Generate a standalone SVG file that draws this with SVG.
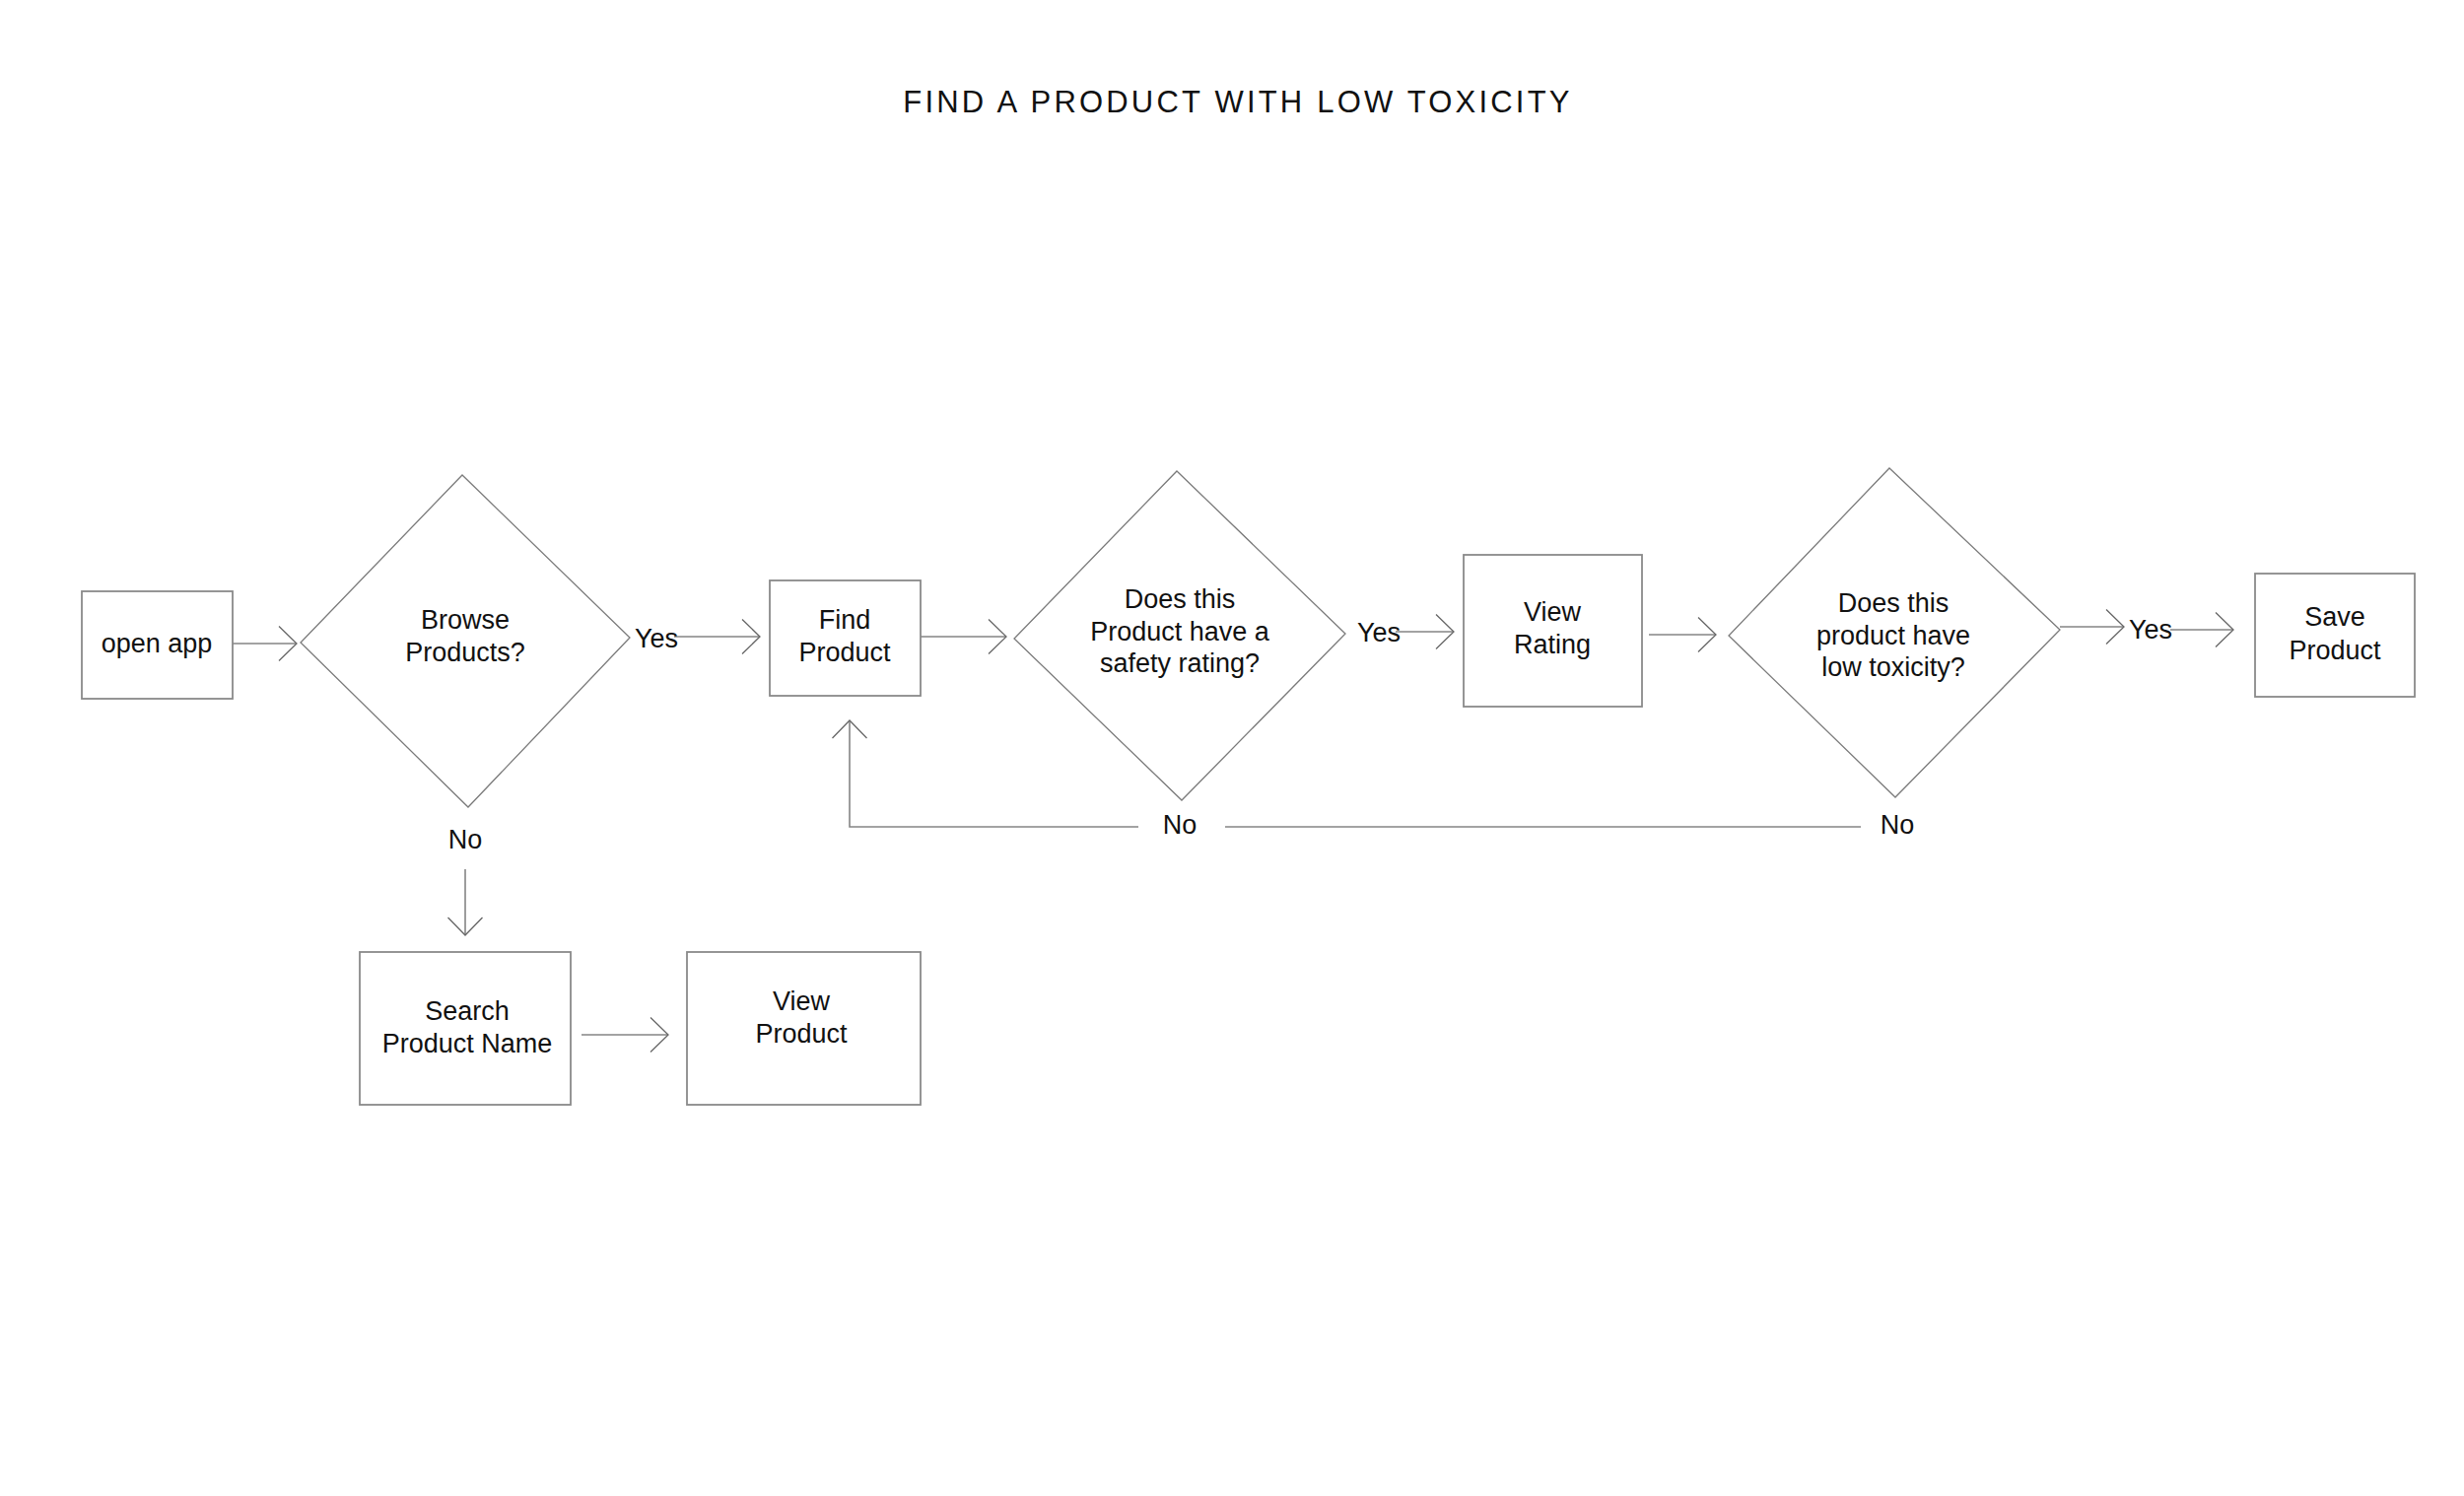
<svg xmlns="http://www.w3.org/2000/svg" width="2500" height="1518" viewBox="0 0 2500 1518">
<style>
.bg{fill:#ffffff}
.box{fill:#ffffff;stroke:#8a8a8a;stroke-width:1.8}
.dia{fill:#ffffff;stroke:#7a7a7a;stroke-width:1.3}
.ln{fill:none;stroke:#858585;stroke-width:1.6}
.ah{fill:none;stroke:#666666;stroke-width:1.3}
.t{font-family:"Liberation Sans",Arial,sans-serif;font-size:27px;fill:#111111;text-anchor:middle}
.lbl{font-family:"Liberation Sans",Arial,sans-serif;font-size:27px;fill:#111111}
.title{font-family:"Liberation Sans",Arial,sans-serif;font-size:31px;fill:#111111;letter-spacing:3.2px;text-anchor:middle}
</style>
<rect class="bg" x="0" y="0" width="2500" height="1518"/>
<text class="title" x="1256" y="114">FIND A PRODUCT WITH LOW TOXICITY</text>

<g id="connectors">
  <line class="ln" x1="235" y1="653" x2="301" y2="653"/>
  <polyline class="ah" points="283,635.5 301,653 283,670.5"/>
  <line class="ln" x1="684" y1="646" x2="771" y2="646"/>
  <polyline class="ah" points="753,628.5 771,646 753,663.5"/>
  <line class="ln" x1="934" y1="646" x2="1021" y2="646"/>
  <polyline class="ah" points="1003,628.5 1021,646 1003,663.5"/>
  <line class="ln" x1="1416" y1="641" x2="1475" y2="641"/>
  <polyline class="ah" points="1457,623.5 1475,641 1457,658.5"/>
  <line class="ln" x1="1673" y1="644" x2="1741" y2="644"/>
  <polyline class="ah" points="1723,626.5 1741,644 1723,661.5"/>
  <line class="ln" x1="2090" y1="636" x2="2155" y2="636"/>
  <polyline class="ah" points="2137,618.5 2155,636 2137,653.5"/>
  <line class="ln" x1="2202" y1="639" x2="2266" y2="639"/>
  <polyline class="ah" points="2248,621.5 2266,639 2248,656.5"/>
  <line class="ln" x1="472" y1="882" x2="472" y2="949"/>
  <polyline class="ah" points="454.5,931 472,949 489.5,931"/>
  <line class="ln" x1="590" y1="1050" x2="678" y2="1050"/>
  <polyline class="ah" points="660,1032.5 678,1050 660,1067.5"/>
  <polyline class="ln" points="1155,839 862,839 862,731"/>
  <polyline class="ah" points="844.5,749 862,731 879.5,749"/>
  <line class="ln" x1="1243" y1="839" x2="1888" y2="839"/>
  <text class="lbl" x="644" y="657">Yes</text>
  <text class="lbl" x="1377" y="651">Yes</text>
  <text class="lbl" x="2160" y="648">Yes</text>
  <text class="t" x="472" y="861">No</text>
  <text class="t" x="1197" y="846">No</text>
  <text class="t" x="1925" y="846">No</text>
</g>

<g id="open-app">
  <rect class="box" x="83" y="600" width="153" height="109"/>
  <text class="t" x="159" y="662">open app</text>
</g>

<g id="browse-products">
  <polygon class="dia" points="469,482 639,647 475,819 305,652"/>
  <text class="t" x="472" y="638">Browse</text>
  <text class="t" x="472" y="671">Products?</text>
</g>

<g id="find-product">
  <rect class="box" x="781" y="589" width="153" height="117"/>
  <text class="t" x="857" y="638">Find</text>
  <text class="t" x="857" y="671">Product</text>
</g>

<g id="safety-rating">
  <polygon class="dia" points="1194,478 1365,643 1199,812 1029,648"/>
  <text class="t" x="1197" y="617">Does this</text>
  <text class="t" x="1197" y="650">Product have a</text>
  <text class="t" x="1197" y="682">safety rating?</text>
</g>

<g id="view-rating">
  <rect class="box" x="1485" y="563" width="181" height="154"/>
  <text class="t" x="1575" y="630">View</text>
  <text class="t" x="1575" y="663">Rating</text>
</g>

<g id="low-toxicity">
  <polygon class="dia" points="1917,475 2090,639 1923,809 1754,645"/>
  <text class="t" x="1921" y="621">Does this</text>
  <text class="t" x="1921" y="654">product have</text>
  <text class="t" x="1921" y="686">low toxicity?</text>
</g>

<g id="save-product">
  <rect class="box" x="2288" y="582" width="162" height="125"/>
  <text class="t" x="2369" y="635">Save</text>
  <text class="t" x="2369" y="669">Product</text>
</g>

<g id="search-product-name">
  <rect class="box" x="365" y="966" width="214" height="155"/>
  <text class="t" x="474" y="1035">Search</text>
  <text class="t" x="474" y="1068">Product Name</text>
</g>

<g id="view-product">
  <rect class="box" x="697" y="966" width="237" height="155"/>
  <text class="t" x="813" y="1025">View</text>
  <text class="t" x="813" y="1058">Product</text>
</g>
</svg>
